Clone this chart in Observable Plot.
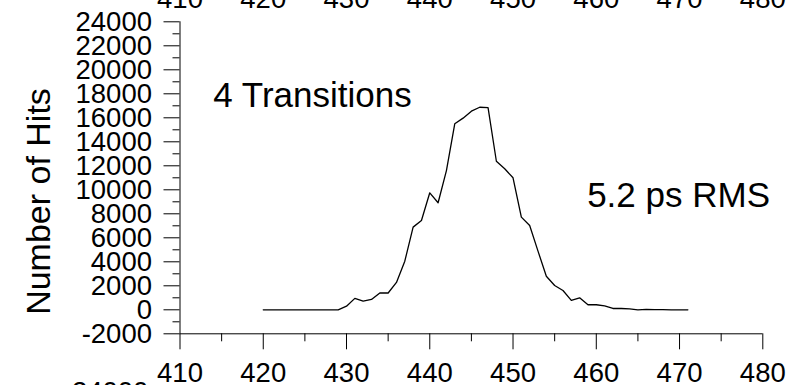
<!DOCTYPE html>
<html>
<head>
<meta charset="utf-8">
<script src="https://cdn.jsdelivr.net/npm/d3@7"></script>
<script src="https://cdn.jsdelivr.net/npm/@observablehq/plot@0.6"></script>
<style>
  html, body { margin: 0; padding: 0; background: #fff; overflow: hidden; }
  svg { overflow: visible; }
</style>
</head>
<body>
<div id="chart"></div>
<script>
// ---- data ----
const delays = [420,421,422,423,424,425,426,427,428,429,430,431,432,433,434,435,436,437,438,439,440,441,442,443,444,445,446,447,448,449,450,451,452,453,454,455,456,457,458,459,460,461,462,463,464,465,466,467,468,469,470,471];
const hits   = [0,0,0,0,0,0,0,0,0,0,300,950,720,860,1400,1400,2280,4050,6890,7440,9750,8920,11600,15500,15970,16550,16880,16850,12380,11750,11000,7720,7030,4890,2800,2030,1610,780,1000,420,420,330,110,110,80,0,30,20,10,0,0,0];

const xMajorTicks = [410,420,430,440,450,460,470,480];
const xMinorTicks = [415,425,435,445,455,465,475];
const yMajorTicks = [-2000,0,2000,4000,6000,8000,10000,12000,14000,16000,18000,20000,22000,24000];
const yMinorTicks = [-1000,1000,3000,5000,7000,9000,11000,13000,15000,17000,19000,21000,23000];

const annotTexts = ["4 Transitions", "5.2 ps RMS"];
const annotX = [414, 458.9];
const annotY = [17800, 9460];

const yLabel = "Number of Hits";
// cropped labels of the neighbouring panels (top axis above, tick label below)
const topCutLabels = xMajorTicks;
const bottomCutLabel = "24000";

const data = delays.map((d, i) => ({x: d, y: hits[i]}));
const annots = annotTexts.map((t, i) => ({t, x: annotX[i], y: annotY[i]}));
const fmt = d => String(d);

const chart = Plot.plot({
  width: 796,
  height: 385,
  marginLeft: 179.5,
  marginRight: 33.7,
  marginTop: 21.3,
  marginBottom: 51.7,
  style: {fontFamily: "'Liberation Sans', Arial, sans-serif", fontSize: "27.5px", color: "#000", background: "#fff"},
  x: {domain: [410, 480]},
  y: {domain: [-2000, 24000]},
  marks: [
    Plot.axisX({ticks: xMinorTicks, tickSize: 8, tickFormat: () => "", label: null}),
    Plot.axisX({ticks: xMajorTicks, tickSize: 16, tickPadding: 13, tickFormat: fmt, label: null}),
    Plot.axisY({ticks: yMinorTicks, tickSize: 7, tickFormat: () => "", label: null}),
    Plot.axisY({ticks: yMajorTicks, tickSize: 16, tickPadding: 12, tickFormat: fmt, label: null}),
    Plot.ruleY([-2000], {x1: 410, x2: 480, stroke: "#000"}),
    Plot.ruleX([410], {y1: -2000, y2: 24000, stroke: "#000"}),
    Plot.line(data, {x: "x", y: "y", stroke: "#000", strokeWidth: 1.3}),
    Plot.text(annots, {x: "x", y: "y", text: "t", textAnchor: "start", lineAnchor: "middle", fontSize: 35, fill: "#000"}),
    Plot.text([yLabel], {x: 393.1, y: 9025, text: d => d, rotate: -90, lineAnchor: "middle", fontSize: 34, fill: "#000"}),
    Plot.text(topCutLabels, {x: d => d, y: 25925, text: fmt, lineAnchor: "middle", fontSize: 27.5, fill: "#000"}),
    Plot.text([bottomCutLabel], {x: 406.2, y: -6858, text: d => d, textAnchor: "end", lineAnchor: "middle", fontSize: 27.5, fill: "#000"})
  ]
});
document.getElementById("chart").appendChild(chart);
</script>
</body>
</html>
